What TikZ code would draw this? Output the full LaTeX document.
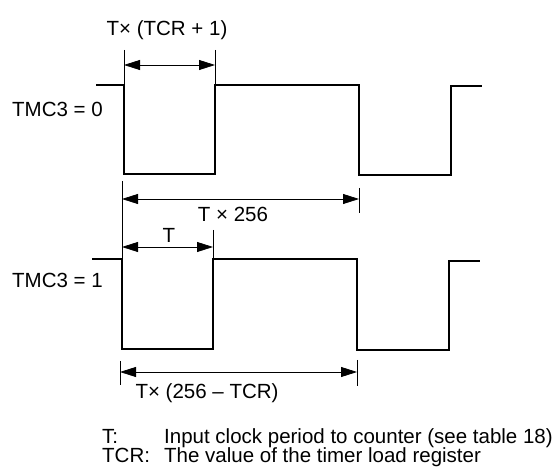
\documentclass[tikz,border=0pt]{standalone}
\usepackage{fontspec}
\setmainfont{Liberation Sans}
\usepackage{tikz}
\usetikzlibrary{arrows.meta,calc,positioning}

\begin{document}
\begin{tikzpicture}[x=1pt,y=-1pt,
    wave/.style={line width=1.6pt, line join=miter},
    dimarrow/.style={{Triangle[length=16pt,width=10pt]}-{Triangle[length=16pt,width=10pt]}, line width=0.8pt},
    extline/.style={line width=0.8pt},
    lbl/.style={font=\fontsize{20.5}{24}\selectfont, inner sep=0pt}]
\useasboundingbox (0,0) rectangle (560,470);
% waveform for TMC3 = 0
\draw[wave] (96,85) -- (124,85) coordinate (fa0) -- (124,174) -- (215,174) -- (215,85) coordinate (ra0)
    -- (359,85) coordinate (fb0) -- (359,175) -- (451,175) -- (451,86) -- (482,86);
% waveform for TMC3 = 1
\draw[wave] (92,259) -- (122,259) coordinate (fa1) -- (122,349) -- (213,349) -- (213,259) coordinate (ra1)
    -- (357,259) coordinate (fb1) -- (357,350) -- (449,350) -- (449,261) -- (480,261);
\node[lbl, anchor=base west] (tmc0) at (12,117) {TMC3 = 0};
\node[lbl, anchor=base west] (tmc1) at (12,288) {TMC3 = 1};
% T x (TCR + 1)
\coordinate (e1l) at (124,50);
\coordinate (e1r) at (215,50);
\draw[extline] (e1l) -- (fa0);
\draw[extline] (e1r) -- (ra0);
\coordinate (d1l) at (124,65);
\coordinate (d1r) at (215,65);
\draw[dimarrow] (d1l) -- (d1r);
\node[lbl] (tcrone) at (167,30) {T× (TCR + 1)};
% T x 256
\coordinate (e2l) at (122,181);
\coordinate (e2rt) at (359,188);
\coordinate (e2rb) at (359,213);
\draw[extline] (e2l) -- (fa1);
\draw[extline] (e2rt) -- (e2rb);
\coordinate (d2l) at (122,199);
\coordinate (d2r) at (359,199);
\draw[dimarrow] (d2l) -- (d2r);
\node[lbl] (full) at (233,214) {T × 256};
% T
\coordinate (e3r) at (213,230);
\draw[extline] (e3r) -- (ra1);
\coordinate (d3l) at (122,247);
\coordinate (d3r) at (213,247);
\draw[dimarrow] (d3l) -- (d3r);
\node[lbl] (period) at (169,235) {T};
% T x (256 - TCR)
\coordinate (e4lt) at (120,361);
\coordinate (e4lb) at (120,385);
\coordinate (e4rt) at (357,360);
\coordinate (e4rb) at (357,386);
\draw[extline] (e4lt) -- (e4lb);
\draw[extline] (e4rt) -- (e4rb);
\coordinate (d4l) at (120,372);
\coordinate (d4r) at (357,372);
\draw[dimarrow] (d4l) -- (d4r);
\node[lbl] (rest) at (207,393) {T× (256 – TCR)};
% legend
\node[lbl, anchor=base west] (keyt) at (102,443) {T:};
\node[lbl, anchor=base west] (keytcr) at (102,463) {TCR:};
\node[lbl, anchor=base west] (textt) at (164,443) {Input clock period to counter (see table 18)};
\node[lbl, anchor=base west] (texttcr) at (164,463) {The value of the timer load register};
\end{tikzpicture}
\end{document}
